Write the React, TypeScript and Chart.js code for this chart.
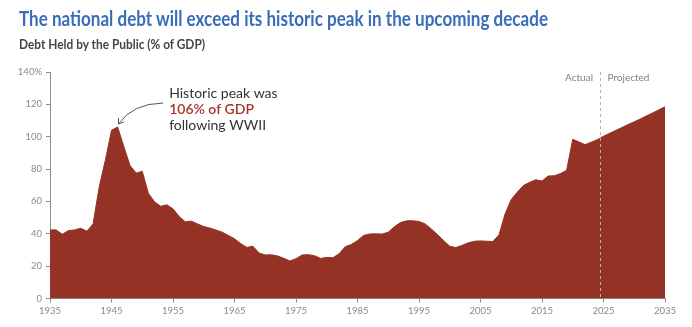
import React, { useEffect, useLayoutEffect, useRef } from 'react';
import { Chart, registerables } from 'chart.js';

Chart.register(...registerables);

const firstYear = 1935;
// Debt held by the public, % of GDP, 1935–2024 (actual)
const actualDebt = [
  42.4, 42.4, 39.7, 42.0, 42.4, 43.4, 41.6, 46.1, 68.9, 85.4,
  104.0, 106.0, 94.0, 82.3, 77.5, 78.6, 65.0, 59.8, 57.0, 57.9,
  55.4, 50.7, 47.4, 47.8, 46.1, 44.5, 43.5, 42.3, 41.0, 39.0,
  36.9, 34.0, 31.6, 32.3, 28.1, 26.9, 27.0, 26.3, 24.9, 23.2,
  24.6, 26.9, 27.1, 26.5, 24.8, 25.4, 25.2, 27.6, 32.0, 33.4,
  35.8, 39.0, 39.9, 40.0, 39.8, 41.0, 44.4, 47.0, 48.0, 48.0,
  47.6, 46.1, 43.0, 39.5, 35.8, 32.3, 31.5, 32.8, 34.4, 35.4,
  35.6, 35.4, 35.2, 39.3, 52.3, 61.2, 65.8, 69.9, 71.8, 73.4,
  72.6, 75.7, 75.9, 77.2, 79.2, 98.4, 96.8, 95.1, 96.6, 98.2,
];
// 2025–2035 (projected)
const projectedDebt = [100.3, 102.1, 103.9, 105.7, 107.5, 109.2, 111.0, 112.9, 114.7, 116.6, 118.5];

const xTickYears = [1935, 1945, 1955, 1965, 1975, 1985, 1995, 2005, 2015, 2025, 2035];
const yTickValues = [0, 20, 40, 60, 80, 100, 120, 140];
const projectionStart = 2024.5;
const peakYear = 1946;
const peakValue = 106;

const titleText = 'The national debt will exceed its historic peak in the upcoming decade';
const subtitleText = 'Debt Held by the Public (% of GDP)';
const annotationLines = ['Historic peak was', '106% of GDP', 'following WWII'];

const FILL = '#943226';
const AXIS = '#8c8c8c';
const TICK_TEXT = '#8a8a8a';

const overlayPlugin = {
  id: 'overlay',
  afterDatasetsDraw(chart: any) {
    const { ctx, chartArea, scales } = chart;
    const xs = scales.x;
    const ys = scales.y;
    ctx.save();
    // projection divider
    const dx = Math.round(xs.getPixelForValue(projectionStart)) + 0.5;
    ctx.strokeStyle = '#b0b0b0';
    ctx.lineWidth = 1;
    ctx.setLineDash([3, 3]);
    ctx.beginPath();
    ctx.moveTo(dx, chartArea.top);
    ctx.lineTo(dx, chartArea.bottom);
    ctx.stroke();
    ctx.setLineDash([]);
    ctx.font = '10px Lato';
    ctx.fillStyle = '#808080';
    ctx.textBaseline = 'middle';
    ctx.textAlign = 'right';
    ctx.fillText('Actual', dx - 7.5, chartArea.top + 6);
    ctx.textAlign = 'left';
    ctx.fillText('Projected', dx + 7, chartArea.top + 6);

    // peak annotation
    const px = xs.getPixelForValue(peakYear);
    const py = ys.getPixelForValue(peakValue);
    ctx.textBaseline = 'alphabetic';
    ctx.textAlign = 'left';
    ctx.font = '14px Lato';
    ctx.fillStyle = '#333333';
    ctx.fillText(annotationLines[0], px + 51.5, py - 29.5);
    ctx.font = '600 14px Lato';
    ctx.fillStyle = '#a3362b';
    ctx.fillText(annotationLines[1], px + 51.5, py - 13);
    ctx.font = '14px Lato';
    ctx.fillStyle = '#333333';
    ctx.fillText(annotationLines[2], px + 51.5, py + 3.3);

    const sx = px + 45.5, sy = py - 24;
    const cx = px + 15, cy = py - 23.5;
    const tx = px + 0.8, ty = py - 3;
    ctx.strokeStyle = '#555555';
    ctx.lineWidth = 1;
    ctx.beginPath();
    ctx.moveTo(sx, sy);
    ctx.quadraticCurveTo(cx, cy, tx, ty);
    ctx.stroke();
    const ang = Math.atan2(ty - cy, tx - cx);
    const hl = 6;
    ctx.beginPath();
    ctx.moveTo(tx - hl * Math.cos(ang - 0.6), ty - hl * Math.sin(ang - 0.6));
    ctx.lineTo(tx, ty);
    ctx.lineTo(tx - hl * Math.cos(ang + 0.6), ty - hl * Math.sin(ang + 0.6));
    ctx.stroke();
    ctx.restore();
  },
};

export default function App() {
  const canvasRef = useRef<HTMLCanvasElement | null>(null);
  const titleRef = useRef<HTMLSpanElement | null>(null);
  const subRef = useRef<HTMLSpanElement | null>(null);

  useLayoutEffect(() => {
    const fit = (el: HTMLSpanElement | null, target: number) => {
      if (!el) return;
      el.style.transform = 'none';
      const w = el.getBoundingClientRect().width;
      if (w > 0) el.style.transform = `scaleX(${target / w})`;
    };
    fit(titleRef.current, 529);
    fit(subRef.current, 186);
  }, []);

  useEffect(() => {
    if (!canvasRef.current) return;
    const allDebt = actualDebt.concat(projectedDebt);
    const points = allDebt.map((v, i) => ({ x: firstYear + i, y: v }));
    const chart = new Chart(canvasRef.current, {
      type: 'line',
      data: {
        datasets: [
          {
            data: points,
            fill: 'origin',
            backgroundColor: FILL,
            borderColor: FILL,
            borderWidth: 1,
            pointRadius: 0,
            tension: 0,
          },
        ],
      },
      options: {
        animation: false,
        responsive: false,
        devicePixelRatio: 1,
        layout: { padding: { top: 72, right: 27, bottom: 0, left: 0 } },
        plugins: {
          legend: { display: false },
          tooltip: { enabled: false },
          title: { display: false },
        },
        scales: {
          x: {
            type: 'linear',
            min: 1935,
            max: 2035,
            afterBuildTicks: (scale: any) => {
              scale.ticks = xTickYears.map((v) => ({ value: v }));
            },
            afterFit: (scale: any) => {
              scale.height = 28.5;
            },
            ticks: {
              autoSkip: false,
              maxRotation: 0,
              padding: 3,
              color: TICK_TEXT,
              font: { family: 'Lato', size: 9.5 },
              callback: (v: any) => String(v),
            },
            grid: { display: true, drawOnChartArea: false, drawTicks: true, tickLength: 4, color: AXIS },
            border: { display: true, color: AXIS, width: 1 },
          },
          y: {
            type: 'linear',
            min: 0,
            max: 140,
            afterBuildTicks: (scale: any) => {
              scale.ticks = yTickValues.map((v) => ({ value: v }));
            },
            afterFit: (scale: any) => {
              scale.width = 50;
            },
            ticks: {
              padding: 4,
              color: TICK_TEXT,
              font: { family: 'Lato', size: 9.5 },
              callback: (v: any) => (v === 140 ? '140%' : String(v)),
            },
            grid: { display: true, drawOnChartArea: false, drawTicks: true, tickLength: 4, color: AXIS },
            border: { display: true, color: AXIS, width: 1 },
          },
        },
      },
      plugins: [overlayPlugin],
    } as any);
    return () => chart.destroy();
  }, []);

  return (
    <div style={{ position: 'fixed', left: 0, top: 0, width: 692, height: 327, background: '#fff', overflow: 'hidden' }}>
      <canvas ref={canvasRef} width={692} height={327} style={{ position: 'absolute', left: 0, top: 0, width: 692, height: 327 }} />
      <span
        ref={titleRef}
        style={{
          position: 'absolute', left: 19, top: 5, whiteSpace: 'nowrap', display: 'inline-block',
          fontFamily: 'Lato', fontWeight: 700, fontSize: 21, lineHeight: '25.2px', color: '#3b6cb7',
          transformOrigin: 'left top',
        }}
      >
        {titleText}
      </span>
      <span
        ref={subRef}
        style={{
          position: 'absolute', left: 19, top: 37.2, whiteSpace: 'nowrap', display: 'inline-block',
          fontFamily: 'Lato', fontWeight: 700, fontSize: 13, lineHeight: '15.6px', color: '#454545',
          transformOrigin: 'left top',
        }}
      >
        {subtitleText}
      </span>
    </div>
  );
}
